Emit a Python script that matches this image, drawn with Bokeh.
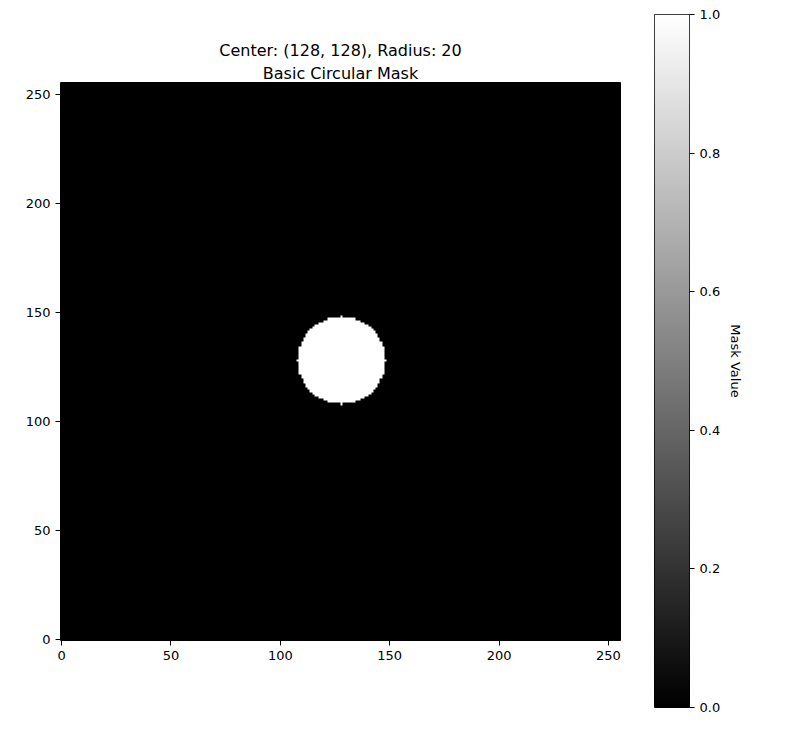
import numpy as np
from bokeh.plotting import figure
from bokeh.layouts import row, column
from bokeh.models import LinearColorMapper, FixedTicker, NumeralTickFormatter, Range1d, Title
from bokeh.embed import file_html
from bokeh.resources import INLINE

size = 256
center = (128, 128)
radius = 20
xticks = [0, 50, 100, 150, 200, 250]
yticks = [0, 50, 100, 150, 200, 250]
cbar_ticks = [0.0, 0.2, 0.4, 0.6, 0.8, 1.0]

yy, xx = np.mgrid[0:size, 0:size]
mask = (((xx - center[0]) ** 2 + (yy - center[1]) ** 2) <= radius ** 2).astype(float)

palette = ["#%02x%02x%02x" % (i, i, i) for i in range(256)]
mapper = LinearColorMapper(palette=palette, low=0, high=1)
FONT = "DejaVu Sans"

def style(p):
    for ax in p.axis:
        ax.major_label_text_font = FONT
        ax.major_label_text_font_size = "13px"
        ax.major_label_text_color = "black"
        ax.axis_line_color = None
        ax.major_tick_line_color = "black"
        ax.major_tick_out = 5
        ax.major_tick_in = 0
        ax.minor_tick_line_color = None
    p.grid.visible = False
    p.outline_line_color = "black"
    p.outline_line_width = 1

p = figure(frame_width=560, frame_height=558, output_backend="svg", toolbar_location=None,
           x_range=Range1d(-0.5, size - 0.5), y_range=Range1d(-0.5, size - 0.5),
           min_border_left=60, min_border_top=82, min_border_right=10, min_border_bottom=44,
           title="Center: (128, 128), Radius: 20")
p.image(image=[mask], x=-0.5, y=-0.5, dw=size, dh=size, color_mapper=mapper)
for t in [p.title]:
    pass
p.add_layout(Title(text="Basic Circular Mask", align="center", text_font=FONT,
                   text_font_size="16px", text_font_style="normal", text_color="black",
                   standoff=0), "above")
p.title.align = "center"
p.title.text_font = FONT
p.title.text_font_size = "16px"
p.title.text_font_style = "normal"
p.title.text_color = "black"
p.title.standoff = 4
p.xaxis.ticker = FixedTicker(ticks=xticks)
p.yaxis.ticker = FixedTicker(ticks=yticks)
style(p)

grad = np.linspace(0, 1, 256).reshape(256, 1)
c = figure(frame_width=35, frame_height=693, output_backend="svg", toolbar_location=None,
           x_range=Range1d(0, 1), y_range=Range1d(0, 1), y_axis_location="right",
           min_border_left=24, min_border_top=14, min_border_right=10, min_border_bottom=20)
c.image(image=[grad], x=0, y=0, dw=1, dh=1, color_mapper=mapper)
c.xaxis.visible = False
c.yaxis.ticker = FixedTicker(ticks=cbar_ticks)
c.yaxis.formatter = NumeralTickFormatter(format="0.0")
c.yaxis.axis_label = "Mask Value"
c.yaxis.axis_label_text_font = FONT
c.yaxis.axis_label_text_font_size = "13px"
c.yaxis.axis_label_text_font_style = "normal"
c.yaxis.axis_label_text_color = "black"
style(c)

layout = row(column(p), column(c))
open("out.html", "w").write(file_html(layout, INLINE))
